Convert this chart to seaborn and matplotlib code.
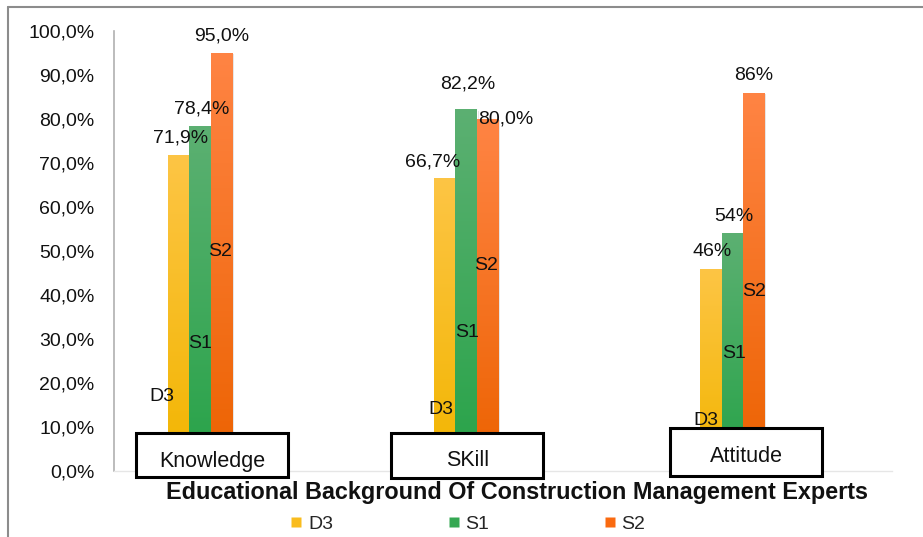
import numpy as np
import pandas as pd
import matplotlib
matplotlib.use("Agg")
import matplotlib.pyplot as plt
import seaborn as sns
from matplotlib.patches import Rectangle
from matplotlib.lines import Line2D
from matplotlib.colors import LinearSegmentedColormap
import matplotlib.transforms as mtransforms

# ---------------- data ----------------
categories = ["Knowledge", "SKill", "Attitude"]
series = ["D3", "S1", "S2"]
d3_values = [71.9, 66.7, 46.0]
s1_values = [78.4, 82.2, 54.0]
s2_values = [95.0, 80.0, 86.0]
value_labels = [["71,9%", "66,7%", "46%"],
                ["78,4%", "82,2%", "54%"],
                ["95,0%", "80,0%", "86%"]]
y_ticks = [0, 10, 20, 30, 40, 50, 60, 70, 80, 90, 100]
y_tick_labels = ["0,0%", "10,0%", "20,0%", "30,0%", "40,0%", "50,0%",
                 "60,0%", "70,0%", "80,0%", "90,0%", "100,0%"]
xlabel = "Educational Background Of Construction Management Experts"

# ---------------- styling / layout ----------------
colors = {"D3": "#F9BC1E", "S1": "#35A853", "S2": "#FA6A10"}
grad_top = {"D3": "#FDC545", "S1": "#5CB072", "S2": "#FF8444"}
grad_bot = {"D3": "#F2B500", "S1": "#27A348", "S2": "#EC6200"}
# value-label offsets in points (dx, dy) per series per category
val_offsets = [[(1, 12), (-9, 11), (1, 12)],
               [(1, 12), (1, 18), (1, 12)],
               [(0, 12), (13, 0), (0, 12)]]
# inner series-name label y (data units) and dx (points)
inner_y = [[17.0, 13.9, 11.4], [29.0, 31.4, 26.8], [49.8, 46.8, 40.9]]
inner_dx = [[-12, -3, -4], [0, 1, 1], [-1, -1, 0]]
box_dx = [0.045, 0.004, 0.053]

FS = 14
FONT = "Liberation Sans"
sns.set_theme(style="white")
plt.rcParams["font.family"] = [FONT, "DejaVu Sans"]

W, H = 923, 537
fig = plt.figure(figsize=(W / 100, H / 100), dpi=100)
ax = fig.add_axes([114 / W, (H - 471) / H, (892 - 114) / W, (471 - 31) / H])

df = pd.DataFrame({
    "category": np.repeat(categories, 3),
    "series": series * 3,
    "value": [v for triple in zip(d3_values, s1_values, s2_values) for v in triple],
})

sns.barplot(data=df, x="category", y="value", hue="series", order=categories,
            hue_order=series, palette=colors, width=0.24, ax=ax,
            legend=False, errorbar=None, saturation=1)

ax.set_xlim(-0.323, 2.6)
ax.set_ylim(0, 100)
ax.set_yticks(y_ticks)
ax.set_yticklabels(y_tick_labels, fontsize=FS, color="#111111")
ax.tick_params(axis="y", length=0, pad=14)
ax.set_xticks([])
ax.set_xlabel("")
ax.set_ylabel("")
for s in ["top", "right"]:
    ax.spines[s].set_visible(False)
ax.spines["left"].set_color("#B0B0B0")
ax.spines["left"].set_linewidth(1.2)
ax.spines["bottom"].set_color("#E6E6E6")
ax.spines["bottom"].set_linewidth(1.0)

# gradient fill + shadow for bars
bars = list(ax.patches)
for hi, s in enumerate(series):
    cmap = LinearSegmentedColormap.from_list(s, [grad_bot[s], grad_top[s]])
    for ci in range(len(categories)):
        p = bars[hi * len(categories) + ci]
        x0, y0 = p.get_x(), p.get_y()
        w, h = p.get_width(), p.get_height()
        sh = Rectangle((x0, y0), w, h, transform=mtransforms.offset_copy(
            ax.transData, fig=fig, x=1.5, y=-1.0, units="points"),
            facecolor="#000000", alpha=0.12, edgecolor="none", zorder=1.5)
        ax.add_patch(sh)
        p.set_zorder(2)
        grad = np.linspace(0, 1, 256).reshape(-1, 1)
        im = ax.imshow(grad, cmap=cmap, origin="lower", aspect="auto",
                       extent=[x0, x0 + w, y0, y0 + h], zorder=2.1)
        im.set_clip_path(p)
        dx, dy = val_offsets[hi][ci]
        ax.annotate(value_labels[hi][ci], xy=(x0 + w / 2, y0 + h),
                    xytext=(dx, dy), textcoords="offset points",
                    ha="center", va="center", fontsize=FS, color="#111111",
                    zorder=5)
        ax.annotate(s, xy=(x0 + w / 2, inner_y[hi][ci]),
                    xytext=(inner_dx[hi][ci], 0), textcoords="offset points",
                    ha="center", va="center", fontsize=FS, color="#111111",
                    zorder=5)
ax.set_xlim(-0.323, 2.6)
ax.set_ylim(0, 100)

# category boxes
blend = mtransforms.blended_transform_factory(ax.transData, fig.transFigure)
box_w = 152 / 266
box_y = [(H - 477) / H, (H - 478) / H, (H - 476) / H]
box_h = [44 / H, 45 / H, 48 / H]
text_y = [(H - 461) / H, (H - 461) / H, (H - 456) / H]
for i, cat in enumerate(categories):
    cx = i + box_dx[i]
    r = Rectangle((cx - box_w / 2, box_y[i]), box_w, box_h[i], transform=blend,
                  facecolor="white", edgecolor="black", linewidth=2.2,
                  clip_on=False, zorder=6)
    ax.add_patch(r)
    ax.text(cx, text_y[i], cat, transform=blend, ha="center", va="center",
            fontsize=15.5, color="#111111", zorder=7, clip_on=False)

# axis title
fig.text(517 / W, (H - 493) / H, xlabel, ha="center", va="center",
         fontsize=16.8, fontweight="bold", color="#111111")

# legend
handles = [Line2D([0], [0], marker="s", linestyle="none", markersize=7,
                  markerfacecolor=colors[s], markeredgecolor="none") for s in series]
fig.legend(handles, series, loc="center", bbox_to_anchor=(468 / W, (H - 524) / H),
           ncol=3, frameon=False, fontsize=FS, handlelength=0.6,
           handletextpad=0.3, columnspacing=5.9, borderaxespad=0)

# outer frame (top and left edges visible)
fig.add_artist(Line2D([8 / W, 1.0], [(H - 7) / H, (H - 7) / H],
                      transform=fig.transFigure, color="#8C8C8C", linewidth=1.5))
fig.add_artist(Line2D([8 / W, 8 / W], [0, (H - 7) / H],
                      transform=fig.transFigure, color="#8C8C8C", linewidth=1.5))

fig.savefig("out.png", dpi=100)
